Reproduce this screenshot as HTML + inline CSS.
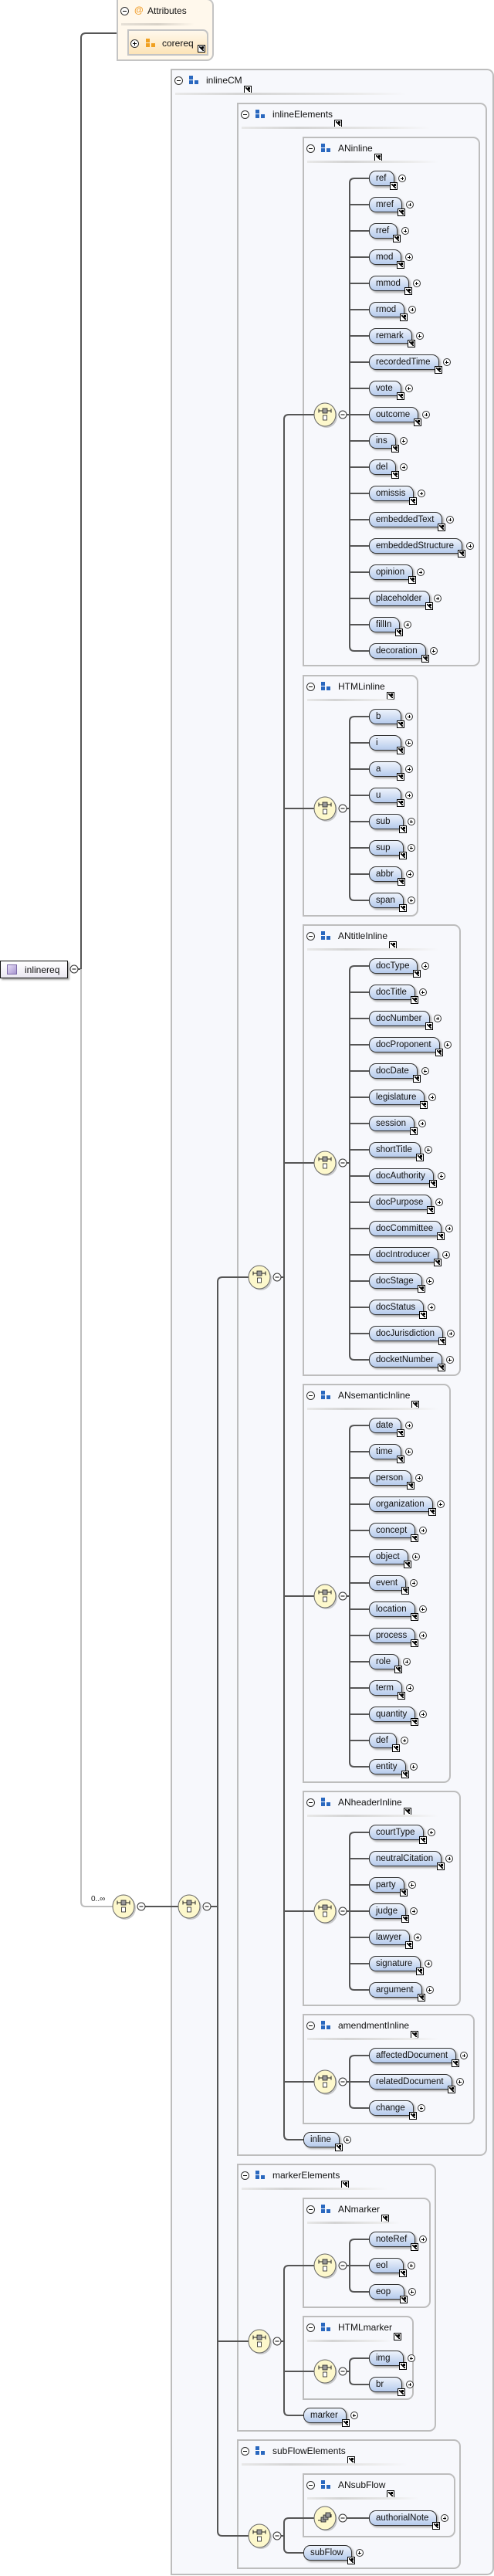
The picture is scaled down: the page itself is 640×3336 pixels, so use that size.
<!DOCTYPE html>
<html><head><meta charset="utf-8">
<style>
*{margin:0;padding:0;box-sizing:border-box}
body{width:640px;height:3336px;position:relative;background:#fff;font-family:"Liberation Sans",sans-serif;overflow:hidden}
.g{position:absolute;border:2px solid #bdbdbd;border-radius:0 9px 9px 0;background:#f7f8fc}
.g>.m{position:absolute;left:3px;top:8px;width:11px;height:11px;border:1px solid #333;border-radius:50%;background:#fff}
.g>.m:after{content:"";position:absolute;left:2px;top:4px;width:5px;height:1px;background:#000}
.g>.ic{position:absolute;left:22px;top:7px;width:5px;height:5px;background:#2a68bf;box-shadow:0 6px 0 #2a68bf,7px 6px 0 #2a68bf}
.g>.t{position:absolute;left:44px;top:6px;font-size:12px;line-height:14px;color:#111;white-space:nowrap}
.g>.t>i,.e>i{position:absolute;width:10px;height:10px;border:1px solid #000;background:#fff}
.g>.t>i{right:-12px;top:14px}
.g>.t>i:after,.e>i:after{content:"";position:absolute;left:1px;top:1px;width:6px;height:6px;background:linear-gradient(to top right,transparent 40%,#000 40%,#000 60%,transparent 60%)}
.g>.t>i:before,.e>i:before{content:"";position:absolute;right:1px;top:1px;width:3px;height:3px;background:#000}
.g>.sp{position:absolute;left:4px;top:29px;width:170px;height:3px;background:linear-gradient(to right,#e8e8e8,#d4d4d4 30%,#ececec 80%,transparent)}
.e{position:absolute;left:478px;height:20px;line-height:18px;padding:0 10px 0 8px;border:1.3px solid #333;border-radius:9px 9px 3px 9px;background:linear-gradient(#eef3fc,#b6cbec);box-shadow:2px 2px 2px #aaa;font-size:11.5px;color:#111;white-space:nowrap}
.e.l{left:393px}
.e>i{right:-5px;bottom:-6px}
.e>b{position:absolute;right:-16px;top:4px;width:10px;height:10px;border:1px solid #333;border-radius:50%;background:#fff}
.e>b:before{content:"";position:absolute;left:2px;top:3.5px;width:4px;height:1px;background:#000}
.e>b:after{content:"";position:absolute;left:3.5px;top:2px;width:1px;height:4px;background:#000}
svg{position:absolute;left:0;top:0}
</style></head><body>

<div style="position:absolute;left:151px;top:-2px;width:126px;height:81px;border:2px solid #c4c4c4;border-radius:0 9px 9px 0;background:#fff8ec">
 <div style="position:absolute;left:3px;top:9px;width:11px;height:11px;border:1px solid #333;border-radius:50%;background:#fff"><div style="position:absolute;left:2px;top:4px;width:5px;height:1px;background:#000"></div></div>
 <div style="position:absolute;left:21px;top:6px;font-size:12px;color:#f0a030;font-weight:bold">@</div>
 <div style="position:absolute;left:38px;top:7px;font-size:12px;color:#111">Attributes</div>
 <div style="position:absolute;left:4px;top:30px;width:95px;height:3px;background:linear-gradient(to right,#e6e0d6,#d8d2c8,transparent)"></div>
 <div style="position:absolute;left:12px;top:38px;width:105px;height:34px;border:2px solid #c4c4c4;border-radius:0 7px 0 0;background:linear-gradient(#fff8ec,#fde4b8)">
  <div style="position:absolute;left:2px;top:11px;width:11px;height:11px;border:1px solid #333;border-radius:50%;background:#fff"><div style="position:absolute;left:2px;top:4px;width:5px;height:1px;background:#000"></div><div style="position:absolute;left:4px;top:2px;width:1px;height:5px;background:#000"></div></div>
  <div style="position:absolute;left:22px;top:10px;width:5px;height:5px;background:#f0a020;box-shadow:0 6px 0 #f0a020,7px 6px 0 #f0a020"></div>
  <div style="position:absolute;left:43px;top:9px;font-size:12px;color:#111">corereq</div>
  <div style="position:absolute;left:89px;top:18px;width:10px;height:10px;border:1px solid #000;background:#fff"><div style="position:absolute;right:1px;top:1px;width:3px;height:3px;background:#000"></div><div style="position:absolute;left:1px;top:1px;width:6px;height:6px;background:linear-gradient(to top right,transparent 40%,#000 40%,#000 60%,transparent 60%)"></div></div>
 </div>
</div>

<div style="position:absolute;left:0;top:1244px;width:88px;height:23px;border:1px solid #111;background:linear-gradient(#fff,#ebe8f2);box-shadow:2px 2px 2px #aaa">
 <div style="position:absolute;left:8px;top:4px;width:13px;height:13px;border:1px solid #7d6ba8;background:linear-gradient(135deg,#e6ddf6,#a896d0)"></div>
 <div style="position:absolute;left:31px;top:4px;font-size:12px;color:#111">inlinereq</div>
</div>

<div class="g" style="left:221px;top:89px;width:419px;height:3246px"><s class="m"></s><span class="ic"></span><span class="t">inlineCM<i></i></span><div class="sp" style="width:300px"></div></div>
<div class="g" style="left:307px;top:133px;width:324px;height:2659px"><s class="m"></s><span class="ic"></span><span class="t">inlineElements<i></i></span><div class="sp" style="width:245px"></div></div>
<div class="g" style="left:392px;top:177px;width:230px;height:686px"><s class="m"></s><span class="ic"></span><span class="t">ANinline<i></i></span><div class="sp"></div></div>
<div class="g" style="left:392px;top:874px;width:150px;height:313px"><s class="m"></s><span class="ic"></span><span class="t">HTMLinline<i></i></span><div class="sp" style="width:120px"></div></div>
<div class="g" style="left:392px;top:1197px;width:205px;height:585px"><s class="m"></s><span class="ic"></span><span class="t">ANtitleInline<i></i></span><div class="sp"></div></div>
<div class="g" style="left:392px;top:1792px;width:192px;height:517px"><s class="m"></s><span class="ic"></span><span class="t">ANsemanticInline<i></i></span><div class="sp"></div></div>
<div class="g" style="left:392px;top:2319px;width:205px;height:279px"><s class="m"></s><span class="ic"></span><span class="t">ANheaderInline<i></i></span><div class="sp"></div></div>
<div class="g" style="left:392px;top:2608px;width:223px;height:143px"><s class="m"></s><span class="ic"></span><span class="t">amendmentInline<i></i></span><div class="sp"></div></div>
<div class="g" style="left:307px;top:2802px;width:258px;height:347px"><s class="m"></s><span class="ic"></span><span class="t">markerElements<i></i></span><div class="sp" style="width:190px"></div></div>
<div class="g" style="left:392px;top:2846px;width:166px;height:143px"><s class="m"></s><span class="ic"></span><span class="t">ANmarker<i></i></span><div class="sp" style="width:120px"></div></div>
<div class="g" style="left:392px;top:2999px;width:144px;height:109px"><s class="m"></s><span class="ic"></span><span class="t">HTMLmarker<i></i></span><div class="sp" style="width:110px"></div></div>
<div class="g" style="left:307px;top:3159px;width:290px;height:168px"><s class="m"></s><span class="ic"></span><span class="t">subFlowElements<i></i></span><div class="sp" style="width:215px"></div></div>
<div class="g" style="left:392px;top:3203px;width:198px;height:83px"><s class="m"></s><span class="ic"></span><span class="t">ANsubFlow<i></i></span><div class="sp" style="width:145px"></div></div>

<svg width="640" height="3336" viewBox="0 0 640 3336">
<defs>
 <g id="ch">
  <ellipse cx="2" cy="2" rx="14" ry="15" fill="#999" opacity=".5"/>
  <ellipse cx="0" cy="0" rx="14" ry="15" fill="#fdf8cc" stroke="#666" stroke-width="1"/>
  <path d="M-8,-5H8M-8,-7.5V-2.5M8,-7.5V-2.5" stroke="#222" stroke-width="1" fill="none"/>
  <rect x="-3" y="-8" width="6" height="6" fill="#999" stroke="#222" stroke-width=".8"/>
  <rect x="-2.5" y="1" width="5" height="6" fill="#fff" stroke="#222" stroke-width=".8"/>
  <circle cx="23" cy="0" r="5" fill="#fff" stroke="#333"/>
  <path d="M20.5,0H25.5" stroke="#000"/>
 </g>
 <g id="sq">
  <ellipse cx="2" cy="2" rx="14" ry="15" fill="#999" opacity=".5"/>
  <ellipse cx="0" cy="0" rx="14" ry="15" fill="#fdf8cc" stroke="#666"/>
  <path d="M-9,3H-4M4,-3H8M8,-5V-1" stroke="#222" fill="none"/>
  <rect x="-5" y="-1" width="6" height="6" fill="#999" stroke="#222" stroke-width=".8"/>
  <rect x="-2" y="-4" width="6" height="6" fill="#999" stroke="#222" stroke-width=".8"/>
  <rect x="1" y="-7" width="6" height="6" fill="#999" stroke="#222" stroke-width=".8"/>
  <circle cx="23" cy="0" r="5" fill="#fff" stroke="#333"/>
  <path d="M20.5,0H25.5" stroke="#000"/>
 </g>
</defs>
<g fill="none" stroke="#555" stroke-width="2">
 <path d="M151,43H111Q105,43 105,49V1255H101"/>
 <path d="M105,1255V2463Q105,2469 111,2469H146" stroke="#bdbdbd"/>
 <path d="M188,2469H231"/>
 <path d="M273,2469H282M322,1654H288Q282,1654 282,1660V3278Q282,3284 288,3284H322M282,3032H322"/>
 <path d="M364,1654H368M407,537H374Q368,537 368,543V2765Q368,2771 374,2771H393M368,1047H407M368,1506H407M368,2067H407M368,2475H407M368,2696H407"/>
 <path d="M364,3032H368M407,2934H374Q368,2934 368,2940V3122Q368,3128 374,3128H393M368,3071H407"/>
 <path d="M364,3284H368M407,3261H374Q368,3261 368,3267V3300Q368,3306 374,3306H393"/>
 <path d="M449,3261H478"/>
 <path d="M449,537H453M478,231H459Q453,231 453,237V837Q453,843 459,843H478M453,265H478M453,299H478M453,333H478M453,367H478M453,401H478M453,435H478M453,469H478M453,503H478M453,537H478M453,571H478M453,605H478M453,639H478M453,673H478M453,707H478M453,741H478M453,775H478M453,809H478"/>
 <path d="M449,1047H453M478,928H459Q453,928 453,934V1160Q453,1166 459,1166H478M453,962H478M453,996H478M453,1030H478M453,1064H478M453,1098H478M453,1132H478"/>
 <path d="M449,1506H453M478,1251H459Q453,1251 453,1257V1755Q453,1761 459,1761H478M453,1285H478M453,1319H478M453,1353H478M453,1387H478M453,1421H478M453,1455H478M453,1489H478M453,1523H478M453,1557H478M453,1591H478M453,1625H478M453,1659H478M453,1693H478M453,1727H478"/>
 <path d="M449,2067H453M478,1846H459Q453,1846 453,1852V2282Q453,2288 459,2288H478M453,1880H478M453,1914H478M453,1948H478M453,1982H478M453,2016H478M453,2050H478M453,2084H478M453,2118H478M453,2152H478M453,2186H478M453,2220H478M453,2254H478"/>
 <path d="M449,2475H453M478,2373H459Q453,2373 453,2379V2571Q453,2577 459,2577H478M453,2407H478M453,2441H478M453,2475H478M453,2509H478M453,2543H478"/>
 <path d="M449,2696H478M478,2662H459Q453,2662 453,2668V2724Q453,2730 459,2730H478"/>
 <path d="M449,2934H478M478,2900H459Q453,2900 453,2906V2962Q453,2968 459,2968H478"/>
 <path d="M449,3071H453M478,3054H459Q453,3054 453,3060V3082Q453,3088 459,3088H478"/>
</g>
<circle cx="96" cy="1255" r="5" fill="#fff" stroke="#333"/><path d="M93.5,1255H98.5" stroke="#000"/>
<text x="118" y="2462" font-size="10" font-family="Liberation Sans, sans-serif" fill="#222">0..∞</text>
<use href="#ch" x="160" y="2469"/>
<use href="#ch" x="245" y="2469"/>
<use href="#ch" x="336" y="1654"/>
<use href="#ch" x="336" y="3032"/>
<use href="#ch" x="336" y="3284"/>
<use href="#ch" x="421" y="537"/>
<use href="#ch" x="421" y="1047"/>
<use href="#ch" x="421" y="1506"/>
<use href="#ch" x="421" y="2067"/>
<use href="#ch" x="421" y="2475"/>
<use href="#ch" x="421" y="2696"/>
<use href="#ch" x="421" y="2934"/>
<use href="#ch" x="421" y="3071"/>
<use href="#sq" x="421" y="3261"/>
</svg>

<div class="e" style="top:221px">ref<i></i><b></b></div>
<div class="e" style="top:255px">mref<i></i><b></b></div>
<div class="e" style="top:289px">rref<i></i><b></b></div>
<div class="e" style="top:323px">mod<i></i><b></b></div>
<div class="e" style="top:357px">mmod<i></i><b></b></div>
<div class="e" style="top:391px">rmod<i></i><b></b></div>
<div class="e" style="top:425px">remark<i></i><b></b></div>
<div class="e" style="top:459px">recordedTime<i></i><b></b></div>
<div class="e" style="top:493px">vote<i></i><b></b></div>
<div class="e" style="top:527px">outcome<i></i><b></b></div>
<div class="e" style="top:561px">ins<i></i><b></b></div>
<div class="e" style="top:595px">del<i></i><b></b></div>
<div class="e" style="top:629px">omissis<i></i><b></b></div>
<div class="e" style="top:663px">embeddedText<i></i><b></b></div>
<div class="e" style="top:697px">embeddedStructure<i></i><b></b></div>
<div class="e" style="top:731px">opinion<i></i><b></b></div>
<div class="e" style="top:765px">placeholder<i></i><b></b></div>
<div class="e" style="top:799px">fillIn<i></i><b></b></div>
<div class="e" style="top:833px">decoration<i></i><b></b></div>
<div class="e" style="top:918px">b&nbsp;&nbsp;&nbsp;&nbsp;&nbsp;<i></i><b></b></div>
<div class="e" style="top:952px">i&nbsp;&nbsp;&nbsp;&nbsp;&nbsp;&nbsp;<i></i><b></b></div>
<div class="e" style="top:986px">a&nbsp;&nbsp;&nbsp;&nbsp;&nbsp;<i></i><b></b></div>
<div class="e" style="top:1020px">u&nbsp;&nbsp;&nbsp;&nbsp;&nbsp;<i></i><b></b></div>
<div class="e" style="top:1054px">sub&nbsp;&nbsp;<i></i><b></b></div>
<div class="e" style="top:1088px">sup&nbsp;&nbsp;<i></i><b></b></div>
<div class="e" style="top:1122px">abbr<i></i><b></b></div>
<div class="e" style="top:1156px">span<i></i><b></b></div>
<div class="e" style="top:1241px">docType<i></i><b></b></div>
<div class="e" style="top:1275px">docTitle<i></i><b></b></div>
<div class="e" style="top:1309px">docNumber<i></i><b></b></div>
<div class="e" style="top:1343px">docProponent<i></i><b></b></div>
<div class="e" style="top:1377px">docDate<i></i><b></b></div>
<div class="e" style="top:1411px">legislature<i></i><b></b></div>
<div class="e" style="top:1445px">session<i></i><b></b></div>
<div class="e" style="top:1479px">shortTitle<i></i><b></b></div>
<div class="e" style="top:1513px">docAuthority<i></i><b></b></div>
<div class="e" style="top:1547px">docPurpose<i></i><b></b></div>
<div class="e" style="top:1581px">docCommittee<i></i><b></b></div>
<div class="e" style="top:1615px">docIntroducer<i></i><b></b></div>
<div class="e" style="top:1649px">docStage<i></i><b></b></div>
<div class="e" style="top:1683px">docStatus<i></i><b></b></div>
<div class="e" style="top:1717px">docJurisdiction<i></i><b></b></div>
<div class="e" style="top:1751px">docketNumber<i></i><b></b></div>
<div class="e" style="top:1836px">date<i></i><b></b></div>
<div class="e" style="top:1870px">time<i></i><b></b></div>
<div class="e" style="top:1904px">person<i></i><b></b></div>
<div class="e" style="top:1938px">organization<i></i><b></b></div>
<div class="e" style="top:1972px">concept<i></i><b></b></div>
<div class="e" style="top:2006px">object<i></i><b></b></div>
<div class="e" style="top:2040px">event<i></i><b></b></div>
<div class="e" style="top:2074px">location<i></i><b></b></div>
<div class="e" style="top:2108px">process<i></i><b></b></div>
<div class="e" style="top:2142px">role<i></i><b></b></div>
<div class="e" style="top:2176px">term<i></i><b></b></div>
<div class="e" style="top:2210px">quantity<i></i><b></b></div>
<div class="e" style="top:2244px">def<i></i><b></b></div>
<div class="e" style="top:2278px">entity<i></i><b></b></div>
<div class="e" style="top:2363px">courtType<i></i><b></b></div>
<div class="e" style="top:2397px">neutralCitation<i></i><b></b></div>
<div class="e" style="top:2431px">party<i></i><b></b></div>
<div class="e" style="top:2465px">judge<i></i><b></b></div>
<div class="e" style="top:2499px">lawyer<i></i><b></b></div>
<div class="e" style="top:2533px">signature<i></i><b></b></div>
<div class="e" style="top:2567px">argument<i></i><b></b></div>
<div class="e" style="top:2652px">affectedDocument<i></i><b></b></div>
<div class="e" style="top:2686px">relatedDocument<i></i><b></b></div>
<div class="e" style="top:2720px">change<i></i><b></b></div>
<div class="e l" style="top:2761px">inline<i></i><b></b></div>
<div class="e" style="top:2890px">noteRef<i></i><b></b></div>
<div class="e" style="top:2924px">eol&nbsp;&nbsp;&nbsp;<i></i><b></b></div>
<div class="e" style="top:2958px">eop&nbsp;&nbsp;<i></i><b></b></div>
<div class="e" style="top:3044px">img&nbsp;&nbsp;<i></i><b></b></div>
<div class="e" style="top:3078px">br&nbsp;&nbsp;&nbsp;&nbsp;<i></i><b></b></div>
<div class="e l" style="top:3118px">marker<i></i><b></b></div>
<div class="e" style="top:3251px">authorialNote<i></i><b></b></div>
<div class="e l" style="top:3296px">subFlow<i></i><b></b></div>
</body></html>
